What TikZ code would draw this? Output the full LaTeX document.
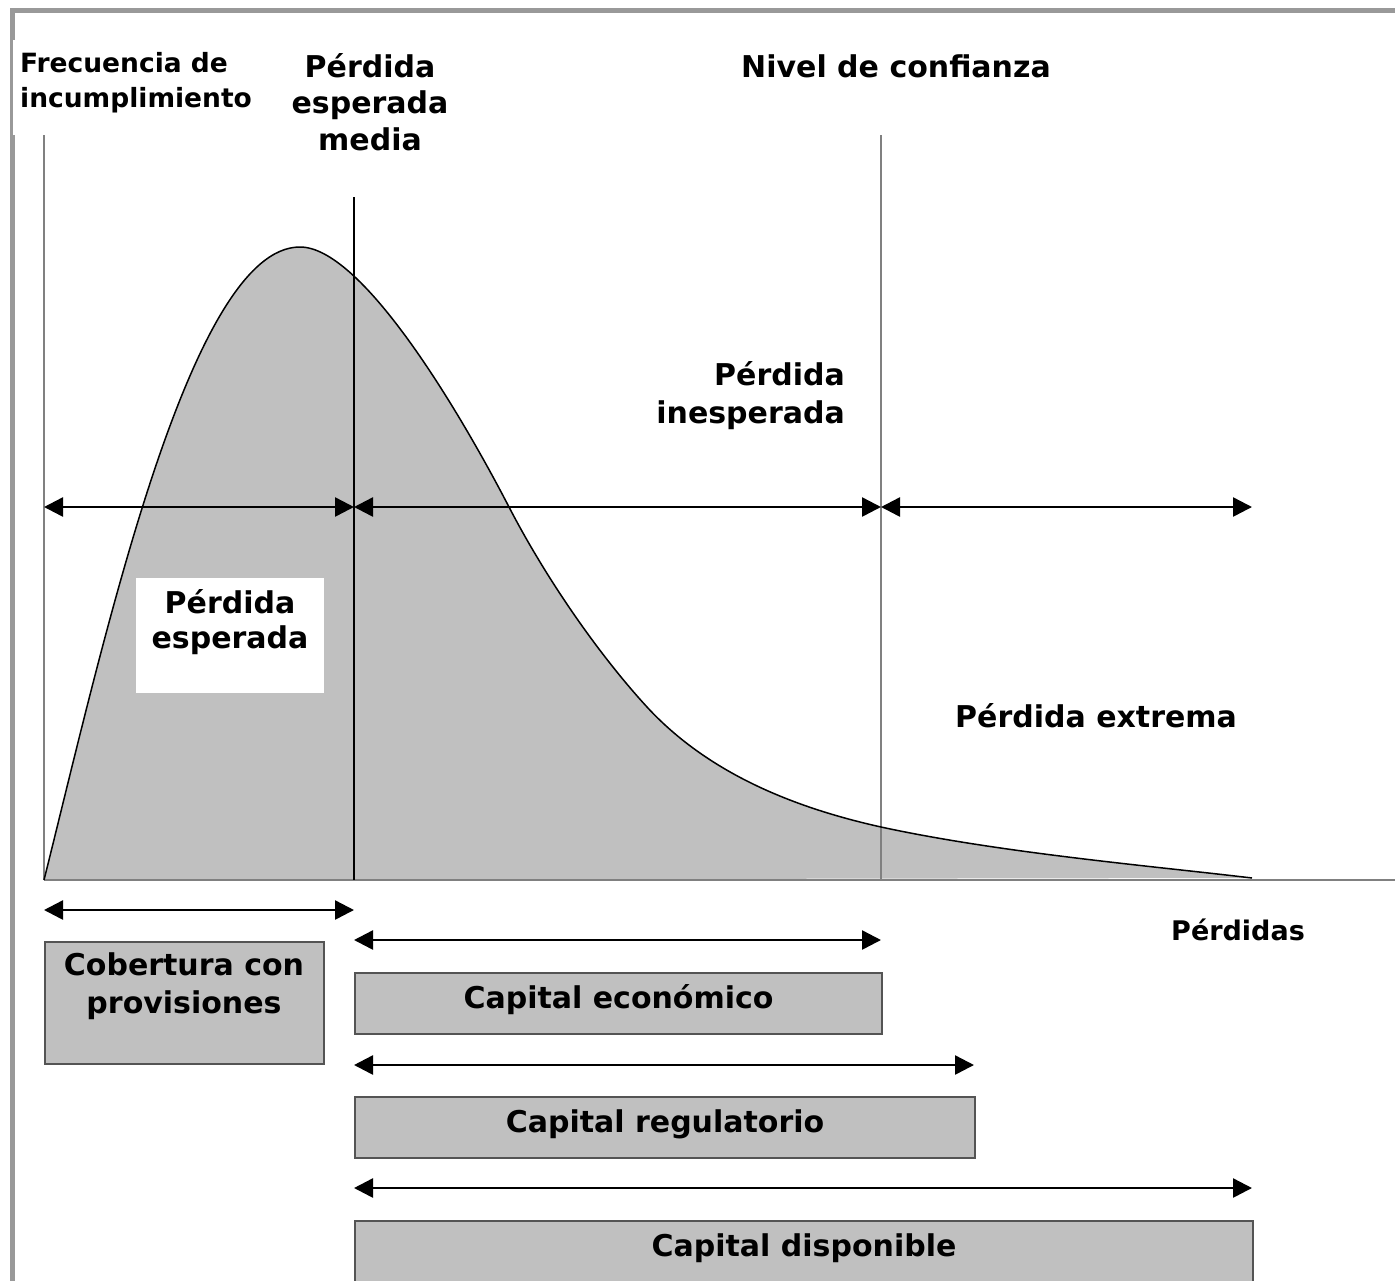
\documentclass[tikz,border=0pt]{standalone}
\usepackage{fontspec}
\setmainfont{DejaVu Sans}
\usetikzlibrary{arrows.meta}
\definecolor{fillgray}{gray}{0.753}
\definecolor{framegray}{gray}{0.6}
\definecolor{axisgray}{gray}{0.5}
\definecolor{boxline}{gray}{0.33}
\newcommand{\mlines}[4]{{\fontsize{#2}{#3}\selectfont\begin{tabular}[t]{@{}#1@{}}#4\end{tabular}}}
\tikzset{
  txt/.style={inner sep=0pt, font=\bfseries},
  bigtxt/.style={inner sep=0pt, font=\bfseries\fontsize{30}{37}\selectfont},
  axisline/.style={draw=axisgray, line width=2pt},
  refline/.style={draw=black, line width=2pt},
  dimarr/.style={draw=black, line width=2.5pt,
     {Triangle[length=19pt,width=19pt]}-{Triangle[length=19pt,width=19pt]}},
  capbox/.style={draw=boxline, fill=fillgray, line width=2pt, inner sep=0pt,
     anchor=north west, minimum height=61pt, text height=20pt, text depth=10pt,
     font=\bfseries\fontsize{30}{37}\selectfont},
}
\begin{document}
\begin{tikzpicture}[x=1pt,y=-1pt]
\useasboundingbox (0,0) rectangle (1395,1280);
% frame
\draw[framegray, line width=5pt] (12,1290) -- (12,10) -- (1400,10);
\fill[white] (12.5,40) rectangle (262,135);
% coordinates
\coordinate (v0top) at (44,135);  \coordinate (v0bot) at (44,880);
\coordinate (v1top) at (354,197); \coordinate (v1bot) at (354,880);
\coordinate (v2top) at (881,135); \coordinate (v2bot) at (881,880);
\coordinate (axend) at (1400,880);
\coordinate (t0) at (44,507); \coordinate (t1) at (354,507);
\coordinate (t2) at (881,507); \coordinate (t3) at (1252,507);
\coordinate (p0) at (44,910); \coordinate (p1) at (354,910);
\coordinate (e0) at (354,940); \coordinate (e1) at (881,940);
\coordinate (r0) at (354,1065); \coordinate (r1) at (974,1065);
\coordinate (d0) at (354,1188); \coordinate (d1) at (1252,1188);
% loss distribution
\def\curvepath{(44,880) .. controls (104,640) and (190,247) .. (300,247)
  .. controls (360,247) and (454,401) .. (509,507)
  .. controls (549,584) and (602,658) .. (647,707)
  .. controls (707,772) and (791,807) .. (881,827)
  .. controls (1001,853) and (1152,866) .. (1252,878)}
\fill[fillgray] \curvepath -- cycle;
% white label box
\node[fill=white, inner sep=0pt, minimum width=188pt, minimum height=115pt, anchor=north west] (pebox) at (136,578) {};
\node[txt, anchor=base] (petxt) at (230,613) {\mlines{c}{30}{35}{Pérdida\\esperada}};
% axes and reference lines
\draw[axisline] (v0top) -- (v0bot);
\draw[axisline] (v2top) -- (v2bot);
\draw[axisline] (v0bot) -- (axend);
\draw[refline] (v1top) -- (v1bot);
\draw[black, line width=1.5pt] \curvepath;
% top arrows
\draw[dimarr] (t0) -- (t1);
\draw[dimarr] (t1) -- (t2);
\draw[dimarr] (t2) -- (t3);
% labels
\node[txt, anchor=base west] (freq) at (20,72) {\mlines{l}{26.5}{35}{Frecuencia de\\incumplimiento}};
\node[txt, anchor=base] (pem) at (370,77) {\mlines{c}{30}{36.5}{Pérdida\\esperada\\media}};
\node[bigtxt, anchor=base] (nivel) at (896,77) {Nivel de confianza};
\node[txt, anchor=base east] (pin) at (845,385) {\mlines{r}{30}{38}{Pérdida\\inesperada}};
\node[bigtxt, anchor=base west] (pext) at (955,727) {Pérdida extrema};
\node[txt, font=\bfseries\fontsize{27}{32}\selectfont, anchor=base west] (perd) at (1171,940) {Pérdidas};
% bottom arrows and boxes
\draw[dimarr] (p0) -- (p1);
\node[capbox, minimum width=279pt, minimum height=122pt] (cob) at (44,941) {};
\node[txt, anchor=base] (cobtxt) at (184,975) {\mlines{c}{30}{38}{Cobertura con\\provisiones}};
\draw[dimarr] (e0) -- (e1);
\node[capbox, minimum width=527pt] (econ) at (354,972) {Capital económico};
\draw[dimarr] (r0) -- (r1);
\node[capbox, minimum width=620pt] (regu) at (354,1096) {Capital regulatorio};
\draw[dimarr] (d0) -- (d1);
\node[capbox, minimum width=898pt] (disp) at (354,1220) {Capital disponible};
\end{tikzpicture}
\end{document}
